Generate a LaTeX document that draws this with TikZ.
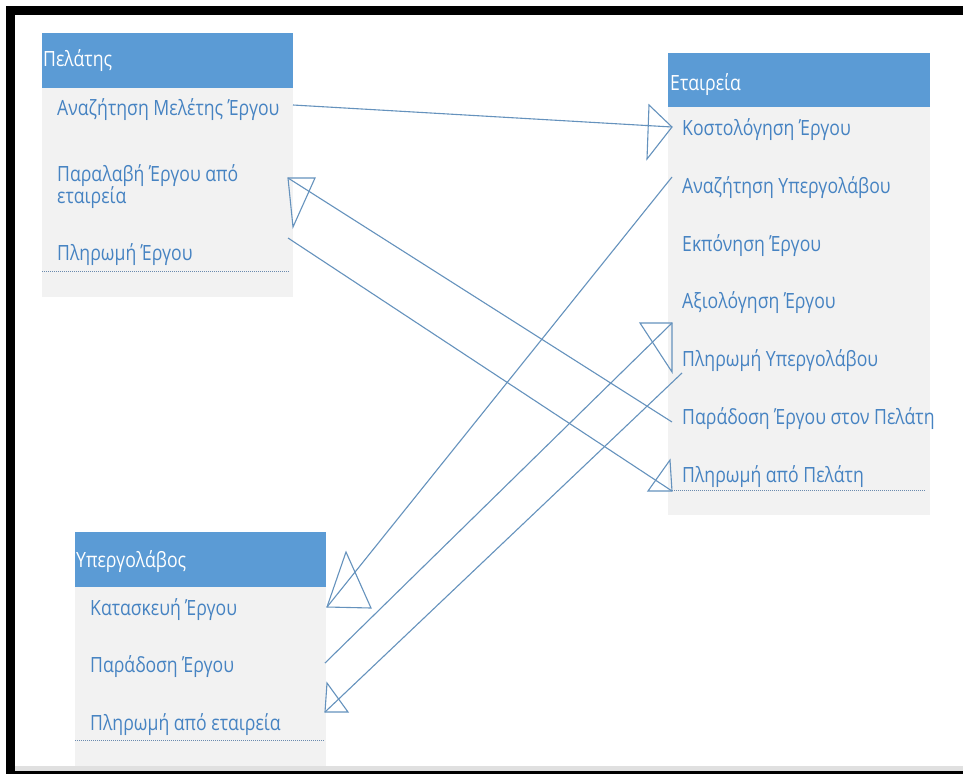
\documentclass[tikz,border=0pt]{standalone}
\usepackage{fontspec}
\setmainfont{Open Sans}[FakeStretch=0.84]
\definecolor{hdr}{HTML}{5B9BD5}
\definecolor{bodyc}{HTML}{F2F2F2}
\definecolor{itemc}{HTML}{4683C2}
\definecolor{linkc}{HTML}{6592BD}
\definecolor{sepc}{HTML}{6A8AAE}
\begin{document}
\begin{tikzpicture}[x=1pt,y=-1pt,
  hdrbox/.style={fill=hdr,draw=none,inner sep=0pt,anchor=north west},
  bodybox/.style={fill=bodyc,draw=none,inner sep=0pt,anchor=north west},
  title/.style={anchor=base west,inner sep=0pt,text=white,font=\fontsize{21}{25}\selectfont},
  item/.style={anchor=base west,inner sep=0pt,text=itemc,font=\fontsize{21}{25}\selectfont},
  sep/.style={draw=sepc,densely dotted,line width=1pt},
  link/.style={draw=linkc,line width=1.1pt},
  ahead/.style={draw=linkc,line width=1.1pt,line join=miter}]
% canvas and frame
\fill[white] (0,0) rectangle (963,774);
\useasboundingbox (0,0) rectangle (963,774);
\fill[black!12] (15,766) rectangle (963,771);
\fill[black] (6,6) rectangle (963,15);
\fill[black] (6,6) rectangle (15,774);
\fill[black] (6,771) rectangle (963,774);

% --- Πελάτης ---
\node[bodybox,minimum width=251,minimum height=209] (pelbody) at (42,88) {};
\node[hdrbox,minimum width=251,minimum height=55] (pelhdr) at (42,33) {};
\node[title] (peltitle) at (43,66) {Πελάτης};
\node[item] (p1) at (57,115) {Αναζήτηση Μελέτης Έργου};
\node[item] (p2) at (57,181) {Παραλαβή Έργου από};
\node[item] (p2b) at (57,203) {εταιρεία};
\node[item] (p3) at (57,260) {Πληρωμή Έργου};
\draw[sep] (42,271) -- (290,271);

% --- Εταιρεία ---
\node[bodybox,minimum width=262,minimum height=408] (etbody) at (668,107) {};
\node[hdrbox,minimum width=262,minimum height=54] (ethdr) at (668,53) {};
\node[title] (ettitle) at (670,90) {Εταιρεία};
\node[item] (e1) at (682,135) {Κοστολόγηση Έργου};
\node[item] (e2) at (682,193) {Αναζήτηση Υπεργολάβου};
\node[item] (e3) at (682,251) {Εκπόνηση Έργου};
\node[item] (e4) at (682,308) {Αξιολόγηση Έργου};
\node[item] (e5) at (682,366) {Πληρωμή Υπεργολάβου};
\node[item] (e6) at (682,424) {Παράδοση Έργου στον Πελάτη};
\node[item] (e7) at (682,482) {Πληρωμή από Πελάτη};
\draw[sep] (670,490) -- (926,490);

% --- Υπεργολάβος ---
\node[bodybox,minimum width=251,minimum height=179] (ypbody) at (75,587) {};
\node[hdrbox,minimum width=251,minimum height=55] (yphdr) at (75,532) {};
\node[title] (yptitle) at (76,567) {Υπεργολάβος};
\node[item] (y1) at (90,615) {Κατασκευή Έργου};
\node[item] (y2) at (90,672) {Παράδοση Έργου};
\node[item] (y3) at (90,730) {Πληρωμή από εταιρεία};
\draw[sep] (75,740) -- (325,740);

% connector end points
\coordinate (s1) at (293,105);  \coordinate (t1) at (672,127);
\coordinate (s2) at (672,177);  \coordinate (t2) at (327,607);
\coordinate (s3) at (325,663);  \coordinate (t3) at (672,323);
\coordinate (s4) at (682,373);  \coordinate (t4) at (325,712);
\coordinate (s5) at (672,422);  \coordinate (t5) at (288,178);
\coordinate (s6) at (288,238);  \coordinate (t6) at (672,491);

% connectors
\draw[link] (s1) -- (t1);
\draw[link] (s2) -- (t2);
\draw[link] (s3) -- (t3);
\draw[link] (s4) -- (t4);
\draw[link] (s5) -- (t5);
\draw[link] (s6) -- (t6);

% open triangular heads
\draw[ahead] (t1) -- ++(-23,-22) -- ++(-2,54) -- cycle;
\draw[ahead] (t2) -- ++(19,-55) -- ++(25,56) -- cycle;
\draw[ahead] (t3) -- ++(-32,0) -- ++(32,49) -- cycle;
\draw[ahead] (t4) -- ++(2,-29) -- ++(21,29) -- cycle;
\draw[ahead] (t5) -- ++(27,0) -- ++(-22,49) -- cycle;
\draw[ahead] (t6) -- ++(-24,0) -- ++(22,-31) -- cycle;
\end{tikzpicture}
\end{document}
